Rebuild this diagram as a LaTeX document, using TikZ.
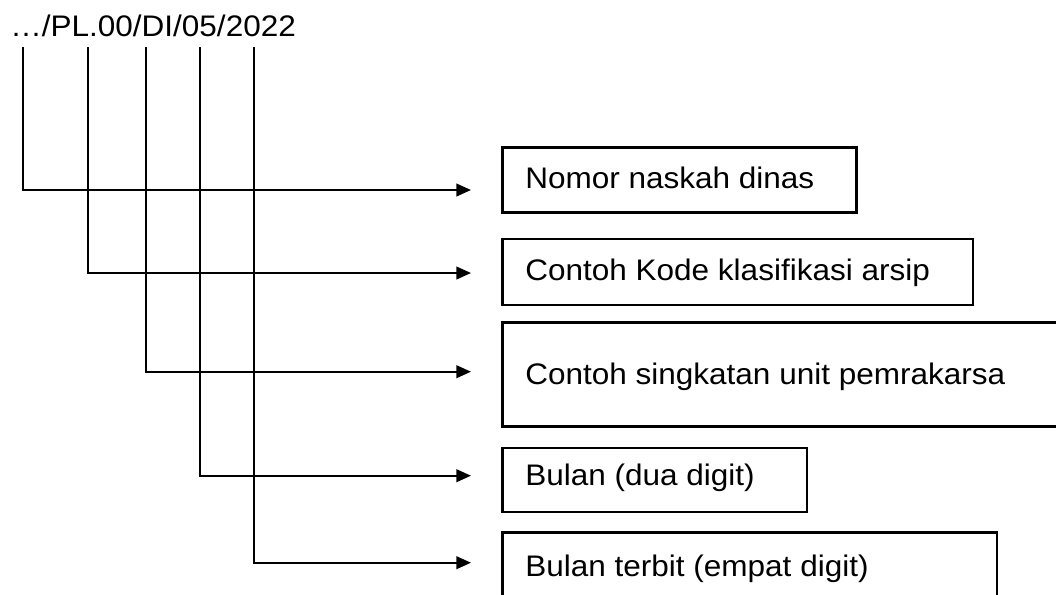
\documentclass[tikz,border=0pt]{standalone}
\usepackage{fontspec}
\setmainfont{Liberation Sans}[FakeStretch=1.06]
\usetikzlibrary{arrows.meta}
\begin{document}
\begin{tikzpicture}[x=0.75pt,y=-0.75pt,
  conn/.style={line width=1.5pt,-{Triangle[length=11pt,width=9.5pt]}},
  boxline/.style={line width=1.9pt},
  lbl/.style={inner sep=0pt,anchor=base west,font=\fontsize{22.3pt}{26pt}\selectfont}]
\useasboundingbox (0,0) rectangle (1056,594);
\clip (0,0) rectangle (1056,594);
% code text
\node[lbl] (code) at (10,36.7) {…/PL.00/DI/05/2022};
% connector tops and ends
\coordinate (t1) at (23,47);
\coordinate (t2) at (88.3,47);
\coordinate (t3) at (146,47);
\coordinate (t4) at (200.3,47);
\coordinate (t5) at (254.3,47);
\coordinate (e1) at (471,190);
\coordinate (e2) at (471,273);
\coordinate (e3) at (471,371.7);
\coordinate (e4) at (471,475.7);
\coordinate (e5) at (471,562.7);
\draw[conn] (t1) |- (e1);
\draw[conn] (t2) |- (e2);
\draw[conn] (t3) |- (e3);
\draw[conn] (t4) |- (e4);
\draw[conn] (t5) |- (e5);
% boxes
\coordinate (b1a) at (502.7,147.3); \coordinate (b1b) at (856.5,212.3);
\coordinate (b2a) at (502.7,239);   \coordinate (b2b) at (973,305);
\coordinate (b3a) at (502.7,322.7); \coordinate (b3b) at (1066,426.7);
\coordinate (b4a) at (502.7,448);   \coordinate (b4b) at (807,512);
\coordinate (b5a) at (502.7,532.7); \coordinate (b5b) at (997,606);
\draw[boxline] (b1a) rectangle (b1b);
\draw[boxline] (b2a) rectangle (b2b);
\draw[boxline] (b3a) rectangle (b3b);
\draw[boxline] (b4a) rectangle (b4b);
\draw[boxline] (b5a) rectangle (b5b);
% labels
\node[lbl] (l1) at (525,188) {Nomor naskah dinas};
\node[lbl] (l2) at (525,280.5) {Contoh Kode klasifikasi arsip};
\node[lbl] (l3) at (525,384.5) {Contoh singkatan unit pemrakarsa};
\node[lbl] (l4) at (525,485.5) {Bulan (dua digit)};
\node[lbl] (l5) at (525,576) {Bulan terbit (empat digit)};
\end{tikzpicture}
\end{document}
